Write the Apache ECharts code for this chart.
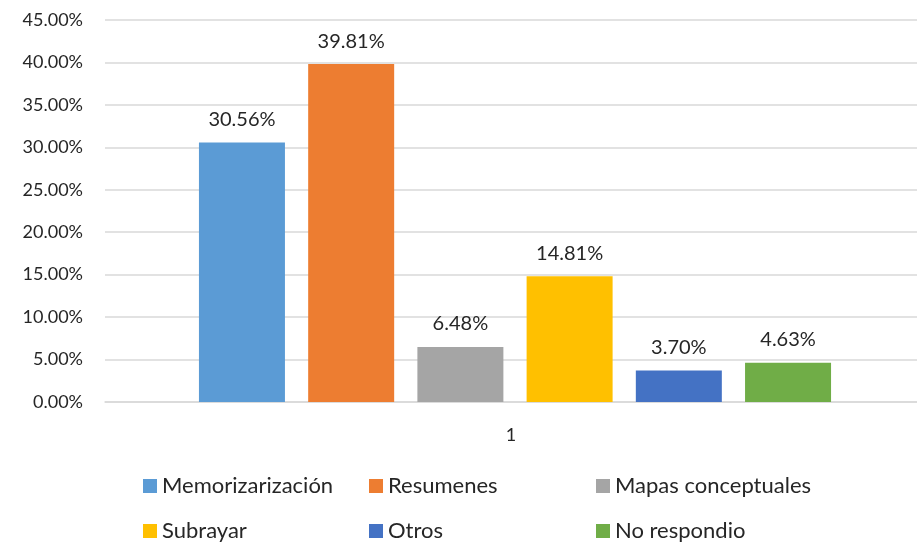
<!DOCTYPE html>
<html>
<head>
<meta charset="utf-8">
<script src="https://cdn.jsdelivr.net/npm/echarts@6/dist/echarts.min.js"></script>
<style>
    html, body { margin: 0; padding: 0; background: #fff; }
    #chart { width: 917px; height: 546px; }
</style>
</head>
<body>
<div id="chart"></div>
<script>
var categories = ['1'];
var seriesNames = ['Memorizarización', 'Resumenes', 'Mapas conceptuales', 'Subrayar', 'Otros', 'No respondio'];
var seriesValues = [30.56, 39.81, 6.48, 14.81, 3.70, 4.63];
var colors = ['#5B9BD5', '#ED7D31', '#A5A5A5', '#FFC000', '#4472C4', '#70AD47'];

var font = 'Lato, "Open Sans", sans-serif';

var myChart = echarts.init(document.getElementById('chart'));

var series = seriesNames.map(function (name, i) {
    return {
        name: name,
        type: 'bar',
        barWidth: 86,
        barGap: '27%',
        itemStyle: { color: colors[i] },
        label: {
            show: true,
            position: 'top',
            distance: 13,
            color: '#262626',
            fontSize: 20,
            fontFamily: font,
            formatter: function (p) { return p.value.toFixed(2) + '%'; }
        },
        data: [seriesValues[i]]
    };
});

// legend in three columns, two rows
var legendCols = [[0, 3], [1, 4], [2, 5]];
var legendLeft = [143, 369, 596];
var legends = legendCols.map(function (col, c) {
    return {
        orient: 'vertical',
        left: legendLeft[c],
        top: 475,
        padding: 0,
        itemWidth: 14,
        itemHeight: 14,
        itemGap: 23,
        icon: 'rect',
        selectedMode: false,
        textStyle: { fontSize: 22, color: '#262626', fontFamily: font },
        data: col.map(function (k) { return seriesNames[k]; })
    };
});

var option = {
    animation: false,
    color: colors,
    grid: { left: 105, right: -8, top: 20, bottom: 144, outerBoundsMode: 'none' },
    legend: legends,
    xAxis: {
        type: 'category',
        data: categories,
        axisLine: { lineStyle: { color: '#d9d9d9', width: 1.5 } },
        axisTick: { show: false },
        axisLabel: { color: '#262626', fontSize: 18, fontFamily: font, margin: 24, padding: [0, 8, 0, 0] }
    },
    yAxis: {
        type: 'value',
        min: 0,
        max: 45,
        interval: 5,
        axisLine: { show: false },
        axisTick: { show: false },
        splitLine: { lineStyle: { color: '#d9d9d9', width: 1.5 } },
        axisLabel: {
            color: '#262626',
            fontSize: 18,
            fontFamily: font,
            margin: 22,
            formatter: function (v) { return v.toFixed(2) + '%'; }
        }
    },
    series: series
};

myChart.setOption(option);
</script>
</body>
</html>
